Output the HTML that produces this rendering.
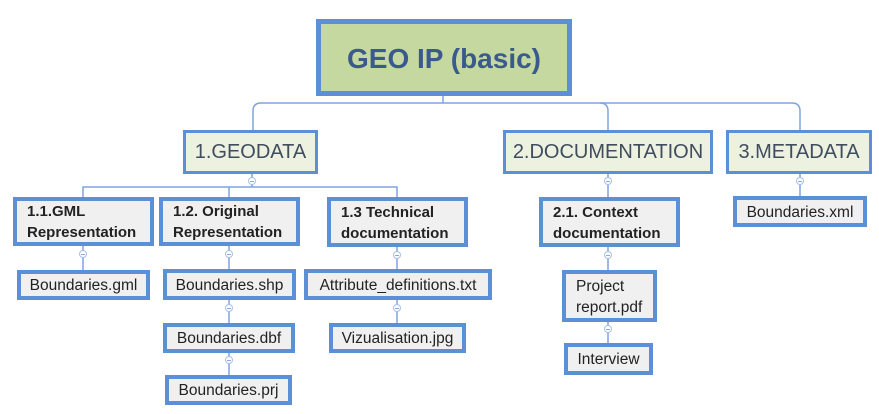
<!DOCTYPE html>
<html><head><meta charset="utf-8"><style>
body{margin:0;width:879px;height:414px;background:#fff;position:relative;overflow:hidden;font-family:"Liberation Sans",sans-serif}
.b{position:absolute;box-sizing:border-box;border:4px solid #5b8fd6;background:#f0f0f0;color:#222;font-size:15.5px;display:flex;align-items:center;justify-content:center;text-align:center;line-height:21px;padding-top:1px}
.l1{background:#edf1df;border-width:3px;color:#3f4d5e;font-size:20px}
.l2{font-weight:bold;justify-content:flex-start;text-align:left;padding-left:10px;font-size:15px}
.c{position:absolute;width:8px;height:8px;border:1px solid #a8c0e8;border-radius:50%;background:#fff;box-sizing:border-box}
.c::after{content:"";position:absolute;left:1px;right:1px;top:3px;height:1px;background:#8aa8dc}
</style></head><body>
<svg width="879" height="414" style="position:absolute;left:0;top:0" fill="none" stroke="#7ea4e0" stroke-width="1.5">
<path d="M443 96V103"/>
<path d="M253 130V111Q253 103 261 103H600Q608 103 608 111V130"/>
<path d="M600 103H792Q800 103 800 111V130"/>
<path d="M252 174V187M83 197V187H397V197M229 187V197"/>
<path d="M83 246V270M229 246V270M397 247V270M229 300V323M229 353V375M397 300V323"/>
<path d="M608 174V197M608 247V270M608 322V343M800 174V196"/>
</svg>
<div class="b" style="left:316px;top:19px;width:256px;height:77px;background:#c5d89f;border-width:5px;color:#3b5a8c;font-size:28px;font-weight:bold">GEO IP (basic)</div>
<div class="b l1" style="left:183px;top:130px;width:135px;height:44px">1.GEODATA</div>
<div class="b l1" style="left:503px;top:130px;width:210px;height:44px">2.DOCUMENTATION</div>
<div class="b l1" style="left:726px;top:130px;width:146px;height:44px">3.METADATA</div>
<div class="b l2" style="left:13px;top:197px;width:141px;height:49px">1.1.GML<br>Representation</div>
<div class="b l2" style="left:159px;top:197px;width:141px;height:49px">1.2. Original<br>Representation</div>
<div class="b l2" style="left:327px;top:197px;width:141px;height:50px">1.3 Technical<br>documentation</div>
<div class="b l2" style="left:539px;top:197px;width:141px;height:50px">2.1. Context<br>documentation</div>
<div class="b" style="left:17px;top:270px;width:133px;height:30px">Boundaries.gml</div>
<div class="b" style="left:163px;top:269px;width:133px;height:31px">Boundaries.shp</div>
<div class="b" style="left:304px;top:269px;width:188px;height:31px">Attribute_definitions.txt</div>
<div class="b" style="left:163px;top:323px;width:132px;height:30px">Boundaries.dbf</div>
<div class="b" style="left:329px;top:323px;width:137px;height:30px">Vizualisation.jpg</div>
<div class="b" style="left:165px;top:375px;width:127px;height:30px">Boundaries.prj</div>
<div class="b" style="left:562px;top:270px;width:95px;height:52px;justify-content:flex-start;text-align:left;padding-left:10px">Project<br>report.pdf</div>
<div class="b" style="left:564px;top:343px;width:89px;height:32px">Interview</div>
<div class="b" style="left:733px;top:196px;width:134px;height:31px">Boundaries.xml</div>
<div class="c" style="left:248px;top:177px"></div>
<div class="c" style="left:604px;top:177px"></div>
<div class="c" style="left:796px;top:177px"></div>
<div class="c" style="left:79px;top:250px"></div>
<div class="c" style="left:225px;top:250px"></div>
<div class="c" style="left:393px;top:251px"></div>
<div class="c" style="left:604px;top:251px"></div>
<div class="c" style="left:225px;top:304px"></div>
<div class="c" style="left:393px;top:304px"></div>
<div class="c" style="left:225px;top:356px"></div>
<div class="c" style="left:604px;top:325px"></div>
</body></html>
